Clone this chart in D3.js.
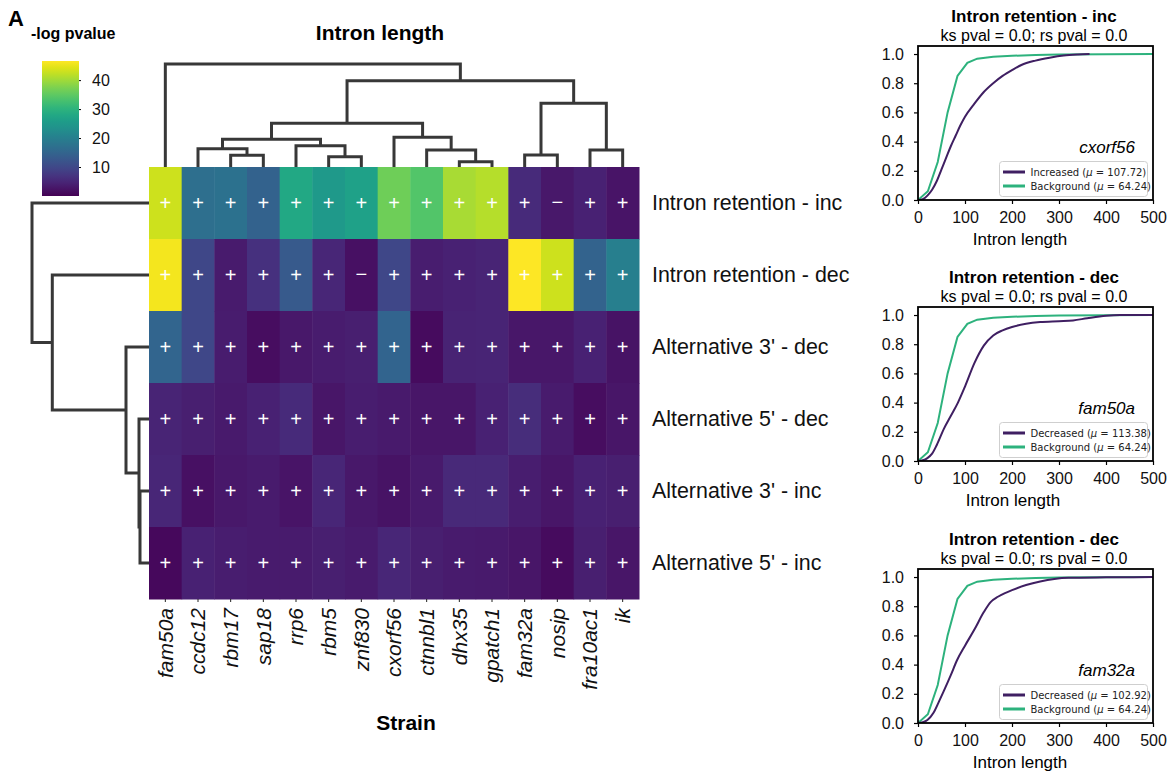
<!DOCTYPE html>
<html><head><meta charset="utf-8">
<script src="https://cdn.jsdelivr.net/npm/d3@7"></script>
<style>body{margin:0;background:#fff}svg{display:block}</style>
</head><body>
<svg id="c" width="1173" height="772"></svg>
<script>
// ---------------- DATA ----------------
const strains = ["fam50a","ccdc12","rbm17","sap18","rrp6","rbm5","znf830","cxorf56","ctnnbl1","dhx35","gpatch1","fam32a","nosip","fra10ac1","ik"];
const events = ["Intron retention - inc","Intron retention - dec","Alternative 3' - dec","Alternative 5' - dec","Alternative 3' - inc","Alternative 5' - inc"];
// -log pvalue per event (row), in strain order
const irInc  = [43.0, 16.8, 17.3, 14.5, 28.0, 25.0, 26.5, 36.3, 34.0, 40.5, 41.5, 5.5, 3.0, 4.2, 2.5];
const irDec  = [45.8, 10.0, 3.3, 6.5, 13.0, 5.0, 2.0, 10.0, 3.8, 4.2, 4.6, 46.5, 43.0, 14.6, 20.0];
const alt3Dec = [15.0, 10.0, 3.6, 1.5, 3.0, 3.6, 4.0, 14.8, 1.4, 4.5, 4.6, 2.8, 2.9, 4.2, 2.3];
const alt5Dec = [4.6, 4.0, 3.2, 4.3, 5.5, 2.6, 3.7, 3.2, 2.6, 2.7, 4.2, 6.0, 3.3, 1.5, 2.6];
const alt3Inc = [5.0, 2.0, 3.0, 3.3, 2.4, 5.0, 3.0, 2.3, 3.2, 5.4, 5.4, 3.8, 2.6, 4.2, 4.0];
const alt5Inc = [1.0, 4.3, 3.8, 3.4, 3.3, 3.9, 3.4, 5.0, 3.9, 3.4, 3.1, 2.7, 1.4, 4.0, 2.6];
const rowValues = [irInc, irDec, alt3Dec, alt5Dec, alt3Inc, alt5Inc];
// direction signs per row ("+" / "−")
const irIncSign  = ["+","+","+","+","+","+","+","+","+","+","+","+","−","+","+"];
const irDecSign  = ["+","+","+","+","+","+","−","+","+","+","+","+","+","+","+"];
const allPlus    = ["+","+","+","+","+","+","+","+","+","+","+","+","+","+","+"];
const rowSigns = [irIncSign, irDecSign, allPlus, allPlus, allPlus, allPlus];

const colorDomain = [0, 46.6];
const colorTicks = [10, 20, 30, 40];

// hierarchical clustering (scipy-style linkage: [a, b, distance])
const colLinkage = [[9,10,5.3],[5,6,10.3],[2,3,11.7],[11,12,12],[13,14,17],[8,15,17],[1,17,18.3],[4,16,21.3],[21,22,27.7],[7,20,29.7],[23,24,43.7],[18,19,63.7],[25,26,86.3],[0,27,103]];
const colMaxDist = 103;
const rowLinkage = [[4,5,9],[3,6,10],[2,7,23],[1,8,96.7],[0,9,117]];
const rowMaxDist = 117;

// CDF panels
const bgLen = [0, 21, 42, 63, 84, 105, 126, 160, 200, 250, 300, 400, 500];
const bgCdf = [0, 0.06, 0.26, 0.60, 0.85, 0.94, 0.968, 0.982, 0.988, 0.993, 0.997, 0.999, 1.0];
const incLen = [0, 10, 20, 30, 40, 50, 60, 70, 80, 90, 100, 120, 140, 160, 180, 200, 220, 250, 280, 310, 340, 365];
const incCdf = [0, 0.005, 0.03, 0.07, 0.13, 0.21, 0.29, 0.37, 0.44, 0.51, 0.57, 0.66, 0.74, 0.80, 0.85, 0.89, 0.925, 0.955, 0.975, 0.99, 0.997, 1.0];
const decALen = [0, 10, 20, 30, 40, 55, 70, 85, 100, 120, 140, 160, 180, 200, 230, 260, 300, 330, 360, 400, 430, 500];
const decACdf = [0, 0.005, 0.02, 0.05, 0.11, 0.22, 0.31, 0.40, 0.51, 0.67, 0.79, 0.86, 0.895, 0.918, 0.94, 0.952, 0.958, 0.963, 0.978, 0.995, 1.0, 1.0];
const decBLen = [0, 10, 20, 33, 45, 55, 70, 83, 100, 120, 140, 155, 170, 185, 200, 230, 260, 290, 320, 400, 500];
const decBCdf = [0, 0.005, 0.02, 0.07, 0.15, 0.22, 0.33, 0.43, 0.53, 0.64, 0.76, 0.83, 0.865, 0.89, 0.91, 0.945, 0.97, 0.987, 0.995, 0.998, 1.0];
const panelTitles = ["Intron retention - inc", "Intron retention - dec", "Intron retention - dec"];
const panelGenes = ["cxorf56", "fam50a", "fam32a"];
const panelLabels = ["Increased", "Decreased", "Decreased"];
const panelMeans = ["107.72", "113.38", "102.92"];
const bgMean = "64.24";
const panelLens = [incLen, decALen, decBLen];
const panelCdfs = [incCdf, decACdf, decBCdf];
const xTicks = [0, 100, 200, 300, 400, 500];
const yTicks = [0, 0.2, 0.4, 0.6, 0.8, 1.0];

// ---------------- DRAW ----------------
const FONT = "'Liberation Sans', Arial, Helvetica, sans-serif";
const svg = d3.select("#c").style("font-family", FONT);

const x = d3.scaleBand().domain(strains).range([149, 639]);
const y = d3.scaleBand().domain(events).range([167, 599]);
const color = d3.scaleSequential(d3.interpolateViridis).domain(colorDomain);

// heatmap cells
const cells = [];
events.forEach((e, i) => strains.forEach((s, j) => cells.push({e, s, v: rowValues[i][j], sign: rowSigns[i][j]})));
svg.append("g").selectAll("rect").data(cells).join("rect")
  .attr("x", d => x(d.s)).attr("y", d => y(d.e))
  .attr("width", x.bandwidth() + 0.5).attr("height", y.bandwidth() + 0.5)
  .attr("fill", d => color(d.v));
svg.append("g").selectAll("text").data(cells).join("text")
  .attr("x", d => x(d.s) + x.bandwidth() / 2)
  .attr("y", d => y(d.e) + y.bandwidth() / 2)
  .attr("dy", d => d.sign === "+" ? "0.36em" : "0.28em")
  .attr("text-anchor", "middle").attr("fill", "#fff")
  .attr("font-size", 20).text(d => d.sign);

// bottom tick marks + column labels
const xAxis = svg.append("g").attr("transform", "translate(0,599)")
  .call(d3.axisBottom(x).tickSize(3).tickFormat(""));
xAxis.select(".domain").remove();
xAxis.selectAll("line").attr("stroke", "#222");
svg.append("g").selectAll("text").data(strains).join("text")
  .attr("transform", d => `translate(${x(d) + x.bandwidth() / 2},608) rotate(-90)`)
  .attr("dy", "0.35em").attr("text-anchor", "end")
  .attr("font-size", 21).attr("font-style", "italic").attr("fill", "#111").text(d => d);

// row labels
svg.append("g").selectAll("text").data(events).join("text")
  .attr("x", 652).attr("y", d => y(d) + y.bandwidth() / 2).attr("dy", "0.35em")
  .attr("font-size", 21.4).attr("fill", "#111").text(d => d);

// dendrograms
function dendroSegs(linkage, leafPos) {
  const pos = leafPos.slice(), hgt = leafPos.map(() => 0), segs = [];
  linkage.forEach(([a, b, h]) => {
    segs.push({p1: pos[a], h1: hgt[a], p2: pos[b], h2: hgt[b], h});
    pos.push((pos[a] + pos[b]) / 2); hgt.push(h);
  });
  return segs;
}
const colH = d3.scaleLinear().domain([0, colMaxDist]).range([167, 64]);
svg.append("g").selectAll("path")
  .data(dendroSegs(colLinkage, strains.map(s => x(s) + x.bandwidth() / 2))).join("path")
  .attr("d", d => `M${d.p1},${colH(d.h1)}V${colH(d.h)}H${d.p2}V${colH(d.h2)}`)
  .attr("fill", "none").attr("stroke", "#383838").attr("stroke-width", 3);
const rowH = d3.scaleLinear().domain([0, rowMaxDist]).range([149, 32]);
svg.append("g").selectAll("path")
  .data(dendroSegs(rowLinkage, events.map(e => y(e) + y.bandwidth() / 2))).join("path")
  .attr("d", d => `M${rowH(d.h1)},${d.p1}H${rowH(d.h)}V${d.p2}H${rowH(d.h2)}`)
  .attr("fill", "none").attr("stroke", "#383838").attr("stroke-width", 3);

// titles
svg.append("text").attr("x", 8).attr("y", 26).attr("font-size", 22).attr("font-weight", "bold").text("A");
svg.append("text").attr("x", 31).attr("y", 39).attr("font-size", 16).attr("font-weight", "bold").text("-log pvalue");
svg.append("text").attr("x", 380).attr("y", 40).attr("text-anchor", "middle").attr("font-size", 21).attr("font-weight", "bold").text("Intron length");
svg.append("text").attr("x", 406).attr("y", 730).attr("text-anchor", "middle").attr("font-size", 21).attr("font-weight", "bold").text("Strain");

// colorbar
const defs = svg.append("defs");
const grad = defs.append("linearGradient").attr("id", "cbg").attr("x1", 0).attr("y1", 1).attr("x2", 0).attr("y2", 0);
d3.range(0, 1.0001, 0.05).forEach(t => grad.append("stop").attr("offset", t)
  .attr("stop-color", color(colorDomain[0] + t * (colorDomain[1] - colorDomain[0]))));
const cb = d3.scaleLinear().domain(colorDomain).range([196, 61]);
svg.append("rect").attr("x", 42).attr("y", 61).attr("width", 37).attr("height", 135).attr("fill", "url(#cbg)");
const cbAxis = svg.append("g").attr("transform", "translate(79,0)")
  .call(d3.axisRight(cb).tickValues(colorTicks).tickSize(2).tickPadding(11));
cbAxis.select(".domain").remove();
cbAxis.selectAll("text").attr("font-size", 16).attr("font-family", FONT).attr("fill", "#111");

// CDF panels
const panelTops = [46, 307, 569];
const panelH = 154;
const xLabelX = [1020, 1013, 1020];
const pL = 918, pR = 1153;
const purple = "#3f1f62", green = "#2db27d";
const xs = d3.scaleLinear().domain([0, 500]).range([pL, pR]);
panelTops.forEach((top, i) => {
  const bottom = top + panelH;
  const ys = d3.scaleLinear().domain([0, 1.055]).range([bottom, top]);
  const g = svg.append("g");
  defs.append("clipPath").attr("id", "clip" + i).append("rect")
    .attr("x", pL).attr("y", top).attr("width", pR - pL).attr("height", panelH);
  const line = d3.line().x(d => xs(d[0])).y(d => ys(d[1]));
  const lineS = d3.line().x(d => xs(d[0])).y(d => ys(d[1])).curve(d3.curveMonotoneX);
  const cg = g.append("g").attr("clip-path", `url(#clip${i})`);
  cg.append("path").attr("d", line(bgLen.map((l, k) => [l, bgCdf[k]])))
    .attr("fill", "none").attr("stroke", green).attr("stroke-width", 2);
  cg.append("path").attr("d", lineS(panelLens[i].map((l, k) => [l, panelCdfs[i][k]])))
    .attr("fill", "none").attr("stroke", purple).attr("stroke-width", 2);

  const ax = g.append("g").attr("transform", `translate(0,${bottom})`)
    .call(d3.axisBottom(xs).tickValues(xTicks).tickSize(4).tickPadding(8));
  const ay = g.append("g").attr("transform", `translate(${pL},0)`)
    .call(d3.axisLeft(ys).tickValues(yTicks).tickFormat(d3.format(".1f")).tickSize(4).tickPadding(10));
  [ax, ay].forEach(a => {
    a.select(".domain").remove();
    a.selectAll("text").attr("font-size", 16).attr("font-family", FONT).attr("fill", "#111");
    a.selectAll("line").attr("stroke", "#000").attr("stroke-width", 1.2);
  });
  g.append("rect").attr("x", pL).attr("y", top).attr("width", pR - pL).attr("height", panelH)
    .attr("fill", "none").attr("stroke", "#000").attr("stroke-width", 1.8);

  g.append("text").attr("x", 1034).attr("y", top - 24).attr("text-anchor", "middle")
    .attr("font-size", 17).attr("font-weight", "bold").text(panelTitles[i]);
  g.append("text").attr("x", 1034).attr("y", top - 5).attr("text-anchor", "middle")
    .attr("font-size", 16).text("ks pval = 0.0; rs pval = 0.0");
  g.append("text").attr("x", xLabelX[i]).attr("y", bottom + 45).attr("text-anchor", "middle")
    .attr("font-size", 17).text("Intron length");
  g.append("text").attr("x", 1135).attr("y", bottom - 47).attr("text-anchor", "end")
    .attr("font-size", 17).attr("font-style", "italic").text(panelGenes[i]);

  // legend
  const ly = bottom - 38.5;
  const lg = g.append("g").style("font-family", "'DejaVu Sans', sans-serif");
  lg.append("rect").attr("x", 999.5).attr("y", ly).attr("width", 148).attr("height", 35).attr("rx", 3)
    .attr("fill", "#fff").attr("fill-opacity", 0.85).attr("stroke", "#cfcfcf").attr("stroke-width", 1);
  const entries = [[purple, panelLabels[i], panelMeans[i]], [green, "Background", bgMean]];
  entries.forEach(([c, lab, mu], k) => {
    const yy = ly + 10.5 + k * 14;
    lg.append("line").attr("x1", 1003).attr("x2", 1025).attr("y1", yy).attr("y2", yy)
      .attr("stroke", c).attr("stroke-width", 3);
    const t = lg.append("text").attr("x", 1030.5).attr("y", yy).attr("dy", "0.35em")
      .attr("font-size", 10).attr("fill", "#222");
    t.append("tspan").text(lab + " (");
    t.append("tspan").attr("font-style", "italic").text("μ");
    t.append("tspan").text(" = " + mu + ")");
  });
});
</script>
</body></html>
